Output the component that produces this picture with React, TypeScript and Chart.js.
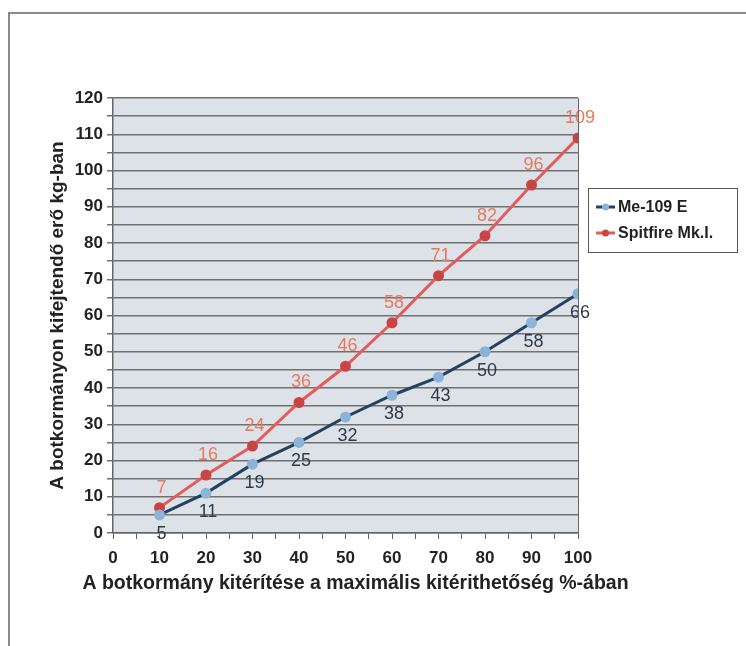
import React, { useEffect, useRef } from "react";
import { Chart, registerables } from "chart.js";

Chart.register(...registerables);

const xValues = [10, 20, 30, 40, 50, 60, 70, 80, 90, 100];
const me109 = [5, 11, 19, 25, 32, 38, 43, 50, 58, 66];
const spitfire = [7, 16, 24, 36, 46, 58, 71, 82, 96, 109];
const seriesNames = ["Me-109 E", "Spitfire Mk.I."];
const xTitle = "A botkormány kitérítése a maximális kitérithetőség %-ában";
const yTitle = "A botkormányon kifejtendő erő kg-ban";

const ME_LINE = "#25415f";
const ME_POINT = "#8db3d9";
const ME_LABEL = "#2d3b4a";
const SP_LINE = "#e25c5c";
const SP_POINT = "#c94444";
const SP_LABEL = "#e8785f";
const FONT = "Arial, 'Liberation Sans', sans-serif";

const framePlugin = {
  id: "frame",
  beforeDraw(chart: any) {
    const { ctx, chartArea } = chart;
    ctx.save();
    ctx.fillStyle = "#ffffff";
    ctx.fillRect(0, 0, chart.width, chart.height);
    ctx.strokeStyle = "#8a8a8a";
    ctx.lineWidth = 2;
    ctx.beginPath();
    ctx.moveTo(9, chart.height + 2);
    ctx.lineTo(9, 13);
    ctx.lineTo(chart.width + 2, 13);
    ctx.stroke();
    ctx.fillStyle = "#dde2e8";
    ctx.fillRect(chartArea.left, chartArea.top, chartArea.right - chartArea.left, chartArea.bottom - chartArea.top);
    ctx.restore();
  },
  afterDraw(chart: any) {
    const { ctx, chartArea } = chart;
    ctx.save();
    ctx.strokeStyle = "#666";
    ctx.lineWidth = 1;
    ctx.beginPath();
    ctx.moveTo(chartArea.right + 0.5, chartArea.top);
    ctx.lineTo(chartArea.right + 0.5, chartArea.bottom);
    ctx.stroke();
    // x-axis title (drawn unconstrained so it can be wider than the axis)
    ctx.fillStyle = "#222";
    ctx.font = "bold 19.5px " + FONT;
    ctx.textAlign = "center";
    ctx.textBaseline = "middle";
    const xs = chart.scales.x;
    ctx.fillText(xTitle, (xs.left + xs.right) / 2 + 10, xs.bottom - 15);
    // legend
    const lx = 588, ly = 188, lw = 149, lh = 64;
    ctx.fillStyle = "#fff";
    ctx.fillRect(lx, ly, lw, lh);
    ctx.strokeStyle = "#555";
    ctx.lineWidth = 1;
    ctx.strokeRect(lx + 0.5, ly + 0.5, lw, lh);
    const rows = [
      { name: seriesNames[0], line: ME_LINE, pt: ME_POINT, y: ly + 19 },
      { name: seriesNames[1], line: SP_LINE, pt: SP_POINT, y: ly + 45 },
    ];
    rows.forEach((r) => {
      ctx.strokeStyle = r.line;
      ctx.lineWidth = 3;
      ctx.beginPath();
      ctx.moveTo(lx + 8, r.y);
      ctx.lineTo(lx + 27, r.y);
      ctx.stroke();
      ctx.fillStyle = r.pt;
      ctx.beginPath();
      ctx.arc(lx + 17.5, r.y, 3.5, 0, Math.PI * 2);
      ctx.fill();
      ctx.fillStyle = "#222";
      ctx.font = "bold 16px " + FONT;
      ctx.textAlign = "left";
      ctx.textBaseline = "middle";
      ctx.fillText(r.name, lx + 30, r.y + 1);
    });
    ctx.restore();
  },
  afterDatasetsDraw(chart: any) {
    const { ctx } = chart;
    ctx.save();
    ctx.font = "18px " + FONT;
    ctx.textAlign = "center";
    ctx.textBaseline = "middle";
    chart.data.datasets.forEach((ds: any, i: number) => {
      const meta = chart.getDatasetMeta(i);
      meta.data.forEach((p: any, j: number) => {
        const v = ds.data[j].y;
        if (i === 0) {
          ctx.fillStyle = ME_LABEL;
          ctx.fillText(String(v), p.x + 2, p.y + 19);
        } else {
          ctx.fillStyle = SP_LABEL;
          ctx.fillText(String(v), p.x + 2, p.y - 20);
        }
      });
    });
    ctx.restore();
  },
};

export default function App() {
  const ref = useRef<HTMLCanvasElement | null>(null);
  useEffect(() => {
    if (!ref.current) return;
    const chart = new Chart(ref.current, {
      type: "line",
      data: {
        datasets: [
          {
            label: seriesNames[0],
            data: xValues.map((x, i) => ({ x, y: me109[i] })),
            borderColor: ME_LINE,
            borderWidth: 3,
            pointBackgroundColor: ME_POINT,
            pointBorderColor: ME_POINT,
            pointRadius: 4,
            pointStyle: "circle",
            tension: 0,
          },
          {
            label: seriesNames[1],
            data: xValues.map((x, i) => ({ x, y: spitfire[i] })),
            borderColor: SP_LINE,
            borderWidth: 3,
            pointBackgroundColor: SP_POINT,
            pointBorderColor: SP_POINT,
            pointRadius: 4,
            tension: 0,
          },
        ],
      },
      options: {
        animation: false,
        responsive: false,
        events: [],
        layout: { padding: { left: 42, top: 98, right: 168, bottom: 47 } },
        plugins: { legend: { display: false }, tooltip: { enabled: false } },
        scales: {
          x: {
            type: "linear",
            min: 0,
            max: 100,
            afterFit: (s: any) => { s.height = 66; },
            ticks: {
              stepSize: 5,
              autoSkip: false,
              maxRotation: 0,
              padding: 9,
              color: "#222",
              font: { family: FONT, size: 17, weight: "bold" },
              callback: (v: any) => (v % 10 === 0 ? String(v) : ""),
            },
            grid: { drawOnChartArea: false, drawTicks: true, tickLength: 6, color: "#666" },
            border: { color: "#666", width: 1.5 },
            title: { display: false, text: xTitle },
          },
          y: {
            min: 0,
            max: 120,
            afterFit: (s: any) => { s.width = 71; },
            ticks: {
              stepSize: 5,
              autoSkip: false,
              padding: 4,
              color: "#222",
              font: { family: FONT, size: 17, weight: "bold" },
              callback: (v: any) => (v % 10 === 0 ? String(v) : ""),
            },
            grid: { color: "#707070", lineWidth: 1.5, tickLength: 6, drawTicks: true },
            border: { color: "#666", width: 1.5 },
            title: {
              display: true,
              text: yTitle,
              color: "#222",
              font: { family: FONT, size: 19, weight: "bold" },
              padding: { top: 4, bottom: 4 },
            },
          },
        },
      },
      plugins: [framePlugin],
    } as any);
    return () => chart.destroy();
  }, []);
  return (
    <div style={{ position: "fixed", left: 0, top: 0, width: 746, height: 646, background: "#fff" }}>
      <canvas ref={ref} width={746} height={646} style={{ display: "block", width: 746, height: 646 }} />
    </div>
  );
}
